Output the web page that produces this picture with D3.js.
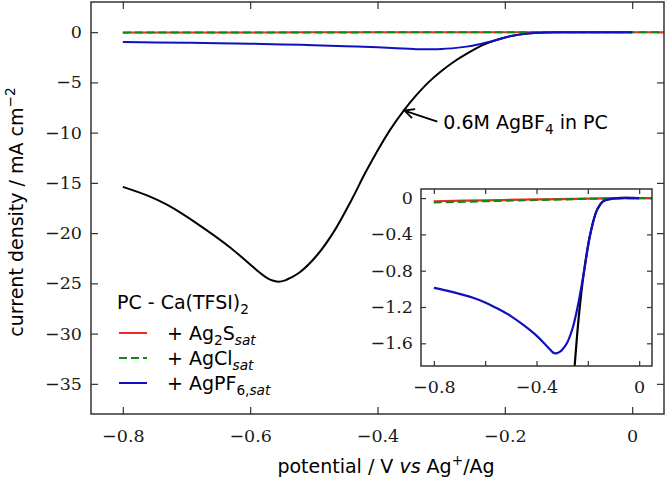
<!DOCTYPE html>
<html>
<head>
<meta charset="utf-8">
<script src="https://cdn.jsdelivr.net/npm/d3@7"></script>
<style>
  body { margin: 0; background: #fff; }
  svg { display: block; }
</style>
</head>
<body>
<div id="chart"></div>
<script>
// potential (V vs Ag+/Ag) and current density (mA cm^-2)
const agbf4Pot = [-0.80, -0.76, -0.73, -0.68, -0.63, -0.59, -0.575, -0.565, -0.556, -0.545, -0.535, -0.522, -0.495, -0.469, -0.44, -0.42, -0.40, -0.38, -0.36, -0.34, -0.32, -0.30, -0.28, -0.25, -0.235, -0.216, -0.19, -0.164, -0.138, -0.11, -0.086, 0.0];
const agbf4Cur = [-15.4, -16.3, -17.2, -19.2, -21.5, -23.67, -24.4, -24.72, -24.83, -24.7, -24.4, -23.9, -22.2, -19.9, -16.6, -14.1, -11.8, -9.7, -7.9, -6.35, -5.0, -3.9, -2.95, -1.8, -1.3, -0.83, -0.39, -0.13, -0.03, -0.008, 0, 0];

const ag2sPot = [-0.80, -0.60, -0.40, -0.20, 0.0, 0.05];
const ag2sCur = [-0.035, -0.025, -0.015, -0.006, 0, 0];

const agclPot = [-0.80, -0.60, -0.40, -0.20, 0.0, 0.05];
const agclCur = [-0.048, -0.034, -0.021, -0.008, 0, 0];

const agpf6Pot = [-0.80, -0.75, -0.70, -0.65, -0.60, -0.55, -0.50, -0.45, -0.40, -0.37, -0.35, -0.34, -0.33, -0.32, -0.31, -0.30, -0.28, -0.26, -0.242, -0.216, -0.19, -0.164, -0.138, -0.11, -0.086, 0.0];
const agpf6Cur = [-0.99, -1.02, -1.055, -1.095, -1.15, -1.22, -1.30, -1.40, -1.515, -1.60, -1.66, -1.69, -1.71, -1.708, -1.695, -1.67, -1.59, -1.44, -1.23, -0.83, -0.39, -0.13, -0.03, -0.008, 0, 0];

const xTicks = [-0.8, -0.6, -0.4, -0.2, 0];
const yTicks = [0, -5, -10, -15, -20, -25, -30, -35];
const insetXTicks = [-0.8, -0.6, -0.4, -0.2, 0];
const insetXLabels = [-0.8, -0.4, 0];
const insetYTicks = [0, -0.4, -0.8, -1.2, -1.6];

const width = 666;
const height = 484;
const marginTop = 2;
const marginRight = 2;
const marginBottom = 70;
const marginLeft = 91;

const serif = "'DejaVu Serif', serif";
const sans = "'DejaVu Sans', sans-serif";
const frameColor = "#333";

const series = [
  { key: "ag2s", pot: ag2sPot, cur: ag2sCur, color: "#f02828", dash: null },
  { key: "agcl", pot: agclPot, cur: agclCur, color: "#0f8a0f", dash: "8,4" },
  { key: "agpf6", pot: agpf6Pot, cur: agpf6Cur, color: "#1010c0", dash: null }
];
const black = { key: "agbf4", pot: agbf4Pot, cur: agbf4Cur, color: "#000", dash: null };

const svg = d3.select("#chart")
  .append("svg")
  .attr("width", width)
  .attr("height", height);

const x = d3.scaleLinear()
  .domain([-0.85, 0.05])
  .range([marginLeft, width - marginRight]);

const y = d3.scaleLinear()
  .domain([3, -38])
  .range([marginTop, height - marginBottom]);

function toPoints(s) {
  return s.pot.map((p, i) => [p, s.cur[i]]);
}

// writes text made of parts with sub/superscripts
function richText(sel, parts, size) {
  parts.forEach(p => {
    const t = sel.append("tspan").text(p.t);
    if (p.it) t.style("font-style", "italic");
    if (p.sub) t.attr("dy", size * 0.28).style("font-size", (size * 0.72) + "px");
    if (p.sup) t.attr("dy", -size * 0.4).style("font-size", (size * 0.72) + "px");
    if (p.small) t.style("font-size", (size * 0.72) + "px");
    if (p.back) t.attr("dy", p.back);
  });
}

// clip for main plot
svg.append("clipPath").attr("id", "clipMain")
  .append("rect")
  .attr("x", marginLeft).attr("y", marginTop)
  .attr("width", width - marginRight - marginLeft)
  .attr("height", height - marginBottom - marginTop);

// axes (ticks pointing inwards)
const tickLen = 7;
const fmtMain = d => d === 0 ? "0" : d3.format(".1f")(d);

svg.append("g")
  .attr("transform", `translate(0,${height - marginBottom})`)
  .call(d3.axisBottom(x).tickValues(xTicks).tickSize(-tickLen).tickPadding(16).tickFormat(fmtMain));
svg.append("g")
  .attr("transform", `translate(0,${marginTop})`)
  .call(d3.axisTop(x).tickValues(xTicks).tickSize(-tickLen).tickFormat(""));
svg.append("g")
  .attr("transform", `translate(${marginLeft},0)`)
  .call(d3.axisLeft(y).tickValues(yTicks).tickSize(-tickLen).tickPadding(9).tickFormat(d3.format("d")));
svg.append("g")
  .attr("transform", `translate(${width - marginRight},0)`)
  .call(d3.axisRight(y).tickValues(yTicks).tickSize(-tickLen).tickFormat(""));

svg.selectAll(".domain").remove();
svg.selectAll(".tick line").attr("stroke", frameColor).attr("stroke-width", 1.2);
svg.selectAll(".tick text")
  .style("font-family", serif)
  .style("font-size", "17.5px")
  .attr("fill", "#1a1a1a");

const line = (sx, sy) => d3.line()
  .x(d => sx(d[0]))
  .y(d => sy(d[1]))
  .curve(d3.curveCatmullRom.alpha(0.5));

const main = svg.append("g").attr("clip-path", "url(#clipMain)");
[black, ...series].forEach(s => {
  main.append("path")
    .datum(toPoints(s))
    .attr("fill", "none")
    .attr("stroke", s.color)
    .attr("stroke-width", 2)
    .attr("stroke-dasharray", s.dash)
    .attr("d", line(x, y));
});

// frame
svg.append("rect")
  .attr("x", marginLeft).attr("y", marginTop)
  .attr("width", width - marginRight - marginLeft)
  .attr("height", height - marginBottom - marginTop)
  .attr("fill", "none")
  .attr("stroke", frameColor)
  .attr("stroke-width", 1.5);

// axis titles
const xTitle = svg.append("text")
  .attr("x", 386)
  .attr("y", 473)
  .attr("text-anchor", "middle")
  .style("font-family", sans)
  .style("font-size", "19px");
richText(xTitle, [
  { t: "potential / V " },
  { t: "vs", it: true },
  { t: " Ag" },
  { t: "+", sup: true },
  { t: "/Ag", back: 19 * 0.4 }
], 19);

const yTitle = svg.append("text")
  .attr("transform", `translate(23,212) rotate(-90)`)
  .attr("text-anchor", "middle")
  .style("font-family", sans)
  .style("font-size", "19px");
richText(yTitle, [
  { t: "current density / mA cm" },
  { t: "\u22122", sup: true }
], 19);

// annotation with arrow
const tip = [x(-0.358), y(-7.8)];
const tail = [x(-0.306), y(-8.9)];
const ang = Math.atan2(tail[1] - tip[1], tail[0] - tip[0]);
const headLen = 11;
svg.append("path")
  .attr("d", `M${tail[0]},${tail[1]}L${tip[0]},${tip[1]}` +
    `M${tip[0] + headLen * Math.cos(ang + 0.45)},${tip[1] + headLen * Math.sin(ang + 0.45)}` +
    `L${tip[0]},${tip[1]}` +
    `L${tip[0] + headLen * Math.cos(ang - 0.45)},${tip[1] + headLen * Math.sin(ang - 0.45)}`)
  .attr("fill", "none")
  .attr("stroke", "#000")
  .attr("stroke-width", 1.8);

const ann = svg.append("text")
  .attr("x", tail[0] + 6)
  .attr("y", tail[1] + 7)
  .style("font-family", sans)
  .style("font-size", "19px");
richText(ann, [
  { t: "0.6M AgBF" },
  { t: "4", sub: true },
  { t: " in PC", back: -19 * 0.28 }
], 19);

// legend
const legX = 117;
svg.append("text")
  .attr("x", legX)
  .attr("y", 309)
  .style("font-family", sans)
  .style("font-size", "19px")
  .call(t => richText(t, [{ t: "PC - Ca(TFSI)" }, { t: "2", sub: true }], 19));

const legendLabels = [
  [{ t: "+ Ag" }, { t: "2", sub: true }, { t: "S", back: -19 * 0.28 }, { t: "sat", sub: true, it: true }],
  [{ t: "+ AgCl" }, { t: "sat", sub: true, it: true }],
  [{ t: "+ AgPF" }, { t: "6,", sub: true }, { t: "sat", it: true, small: true }]
];

series.forEach((s, i) => {
  const ly = 333 + i * 25;
  svg.append("line")
    .attr("x1", legX + 2).attr("x2", legX + 30)
    .attr("y1", ly).attr("y2", ly)
    .attr("stroke", s.color)
    .attr("stroke-width", 2)
    .attr("stroke-dasharray", s.dash);
  const t = svg.append("text")
    .attr("x", legX + 50)
    .attr("y", ly + 7)
    .style("font-family", sans)
    .style("font-size", "19px");
  richText(t, legendLabels[i], 19);
});

// inset
const xi = d3.scaleLinear().domain([-0.85, 0.05]).range([421, 652]);
const yi = d3.scaleLinear().domain([0.1, -1.85]).range([189, 366]);

const inset = svg.append("g");
inset.append("rect")
  .attr("x", 421).attr("y", 189)
  .attr("width", 231).attr("height", 177)
  .attr("fill", "#fff");

svg.append("clipPath").attr("id", "clipInset")
  .append("rect")
  .attr("x", 421).attr("y", 189)
  .attr("width", 231).attr("height", 177);

const insetTick = 5;
inset.append("g")
  .attr("transform", "translate(0,366)")
  .call(d3.axisBottom(xi).tickValues(insetXTicks).tickSize(-insetTick).tickPadding(15)
    .tickFormat(d => insetXLabels.includes(d) ? fmtMain(d) : ""));
inset.append("g")
  .attr("transform", "translate(0,189)")
  .call(d3.axisTop(xi).tickValues(insetXTicks).tickSize(-insetTick).tickFormat(""));
inset.append("g")
  .attr("transform", "translate(421,0)")
  .call(d3.axisLeft(yi).tickValues(insetYTicks).tickSize(-insetTick).tickPadding(8).tickFormat(fmtMain));
inset.append("g")
  .attr("transform", "translate(652,0)")
  .call(d3.axisRight(yi).tickValues(insetYTicks).tickSize(-insetTick).tickFormat(""));

inset.selectAll(".domain").remove();
inset.selectAll(".tick line").attr("stroke", frameColor).attr("stroke-width", 1.2);
inset.selectAll(".tick text")
  .style("font-family", serif)
  .style("font-size", "17.5px")
  .attr("fill", "#1a1a1a");

const insetLines = inset.append("g").attr("clip-path", "url(#clipInset)");
[black, ...series].forEach(s => {
  insetLines.append("path")
    .datum(toPoints(s))
    .attr("fill", "none")
    .attr("stroke", s.color)
    .attr("stroke-width", 2.2)
    .attr("stroke-dasharray", s.dash)
    .attr("d", line(xi, yi));
});

inset.append("rect")
  .attr("x", 421).attr("y", 189)
  .attr("width", 231).attr("height", 177)
  .attr("fill", "none")
  .attr("stroke", frameColor)
  .attr("stroke-width", 1.5);
</script>
</body>
</html>
